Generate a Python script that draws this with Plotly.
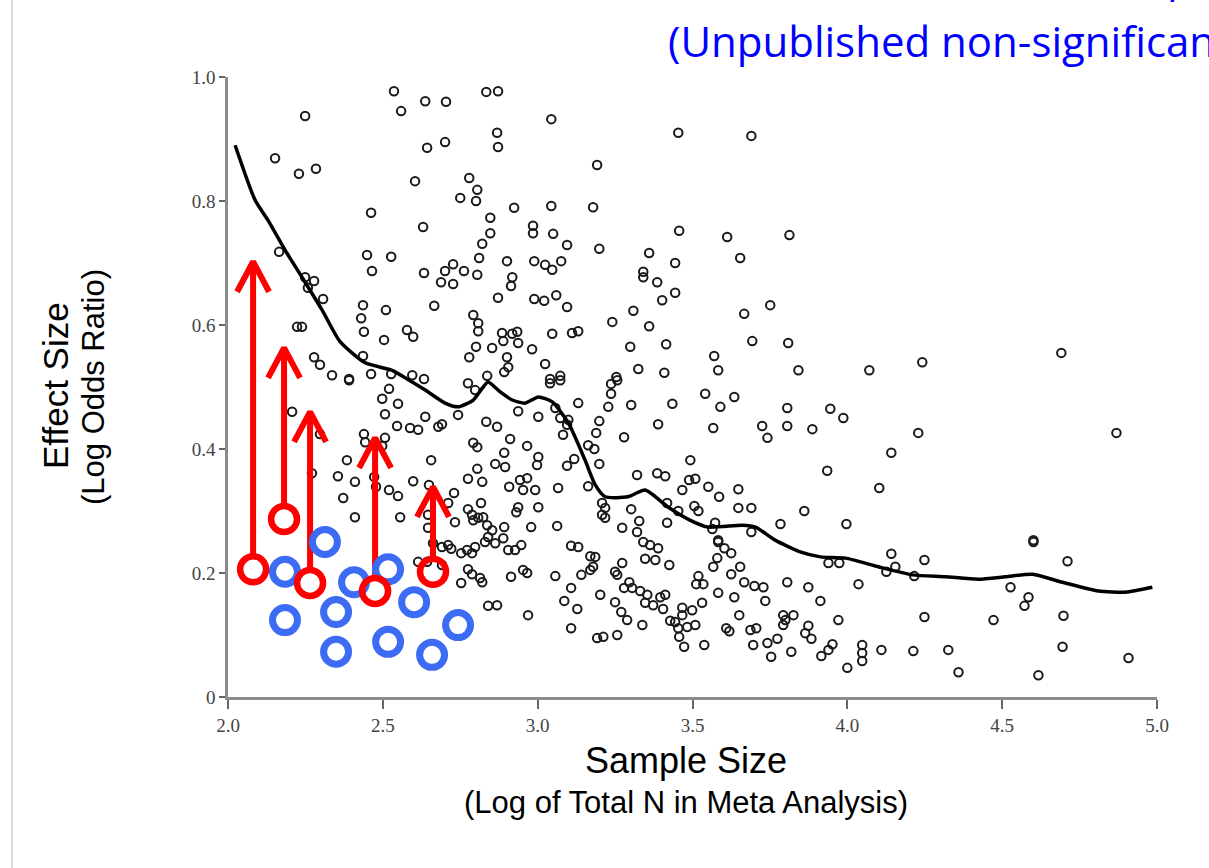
import plotly.graph_objects as go

# ---------------- data ----------------
# black open circles: x = log total N, y = log odds ratio
pts_x = [2.536, 2.559, 2.637, 2.704, 2.834, 2.872, 2.249, 2.152, 2.229, 2.284, 2.869, 2.872, 2.643, 2.701, 2.604,
         2.779, 2.805, 2.750, 2.801, 2.924, 2.847, 2.462, 3.095, 3.044, 3.454, 3.690, 3.192, 3.044, 3.179,
         2.630, 2.847, 2.985, 2.985, 2.821, 2.165, 2.449, 2.527, 2.811, 2.901, 2.989, 2.465, 2.633, 2.701,
         2.727, 2.762, 2.805, 2.688, 2.727, 2.918, 2.914, 2.249, 2.278, 2.258, 2.307, 2.436, 2.510, 2.430,
         2.666, 2.872, 2.989, 2.792, 2.808, 2.808, 2.223, 2.239, 2.439, 2.578, 2.598, 2.504, 2.885, 2.918,
         2.934, 2.889, 2.937, 2.801, 2.853, 2.982, 2.278, 2.297, 2.436, 2.779, 2.901, 2.905, 2.892, 2.336,
         2.391, 2.462, 2.527, 2.595, 2.633, 2.837,
         3.050, 3.095, 3.199, 3.457, 3.612, 3.813, 3.360, 3.444, 3.654, 3.024, 3.047, 3.076, 3.341, 3.341,
         3.386, 3.444, 3.402, 3.021, 3.060, 3.095, 3.309, 3.241, 3.360, 3.667, 3.751, 3.047, 3.111, 3.131,
         3.299, 3.415, 3.693, 3.809, 3.570, 3.024, 3.073, 3.040, 3.254, 3.325, 3.409, 3.583, 3.842,
         4.071, 4.242, 4.691,
         2.207, 2.297, 2.271, 2.391, 2.520, 2.498, 2.549, 2.507, 2.546, 2.588, 2.614, 2.637, 2.679, 2.691,
         2.743, 2.775, 2.798, 2.937, 2.834, 2.869, 2.439, 2.443, 2.507, 2.498, 2.911, 2.792, 2.805, 2.966,
         2.892, 2.384, 2.656, 2.863, 2.895, 2.805, 2.355, 2.472, 2.410, 2.478, 2.598, 2.649, 2.775, 2.821,
         2.908, 2.943, 2.966, 2.953, 2.520, 2.549, 2.372, 2.730, 2.711, 2.817, 2.937, 2.931, 2.775, 2.788,
         2.792, 2.808, 2.824, 2.410, 2.556, 2.646, 2.733, 2.837, 2.853, 2.892, 2.979, 2.646, 2.840, 2.889,
         3.040, 3.073, 3.237, 3.257, 3.237, 3.228, 3.131, 3.302, 3.435, 3.541, 3.590, 3.635, 3.806, 3.945,
         3.987, 3.002, 3.057, 3.073, 3.099, 3.095, 3.199, 3.189, 3.389, 3.567, 3.725, 3.806, 3.887, 3.742,
         3.082, 3.279, 3.163, 3.183, 3.002, 2.998, 3.118, 3.095, 3.199, 3.493, 3.935, 3.321, 3.386, 3.412,
         3.489, 3.509, 2.992, 3.066, 3.163, 3.467, 3.551, 3.648, 3.586, 3.002, 3.208, 3.218, 3.208, 3.218,
         3.302, 3.418, 3.454, 3.506, 3.519, 3.648, 3.690, 3.861, 3.328, 3.418, 3.573, 3.784, 3.997, 3.063,
         3.273, 3.321, 3.564, 3.690, 3.583,
         4.229, 4.142, 4.103, 4.869, 4.601,
         2.662, 2.691, 2.711, 2.721, 2.753, 2.772, 2.788, 2.798, 2.830, 2.863, 2.905, 2.927, 2.947, 2.614,
         2.643, 2.691, 2.775, 2.788, 2.814, 2.821, 2.753, 2.914, 2.953, 2.966, 2.840, 2.869, 2.969,
         3.108, 3.131, 3.170, 3.186, 3.179, 3.170, 3.057, 3.141, 3.108, 3.086, 3.128, 3.202, 3.108, 3.192,
         3.212, 3.257, 3.250, 3.270, 3.289, 3.273, 3.250, 3.257, 3.296, 3.305, 3.279, 3.331, 3.354, 3.347,
         3.373, 3.396, 3.412, 3.405, 3.338, 3.341, 3.363, 3.389, 3.347, 3.380, 3.425, 3.467, 3.499, 3.467,
         3.428, 3.444, 3.454, 3.483, 3.509, 3.457, 3.473, 3.538, 3.531, 3.583, 3.635, 3.512, 3.535, 3.519,
         3.567, 3.580, 3.583, 3.603, 3.625, 3.625, 3.654, 3.667, 3.700, 3.729, 3.735, 3.651, 3.609, 3.619,
         3.687, 3.706, 3.696, 3.742, 3.774, 3.754, 3.819, 3.806, 3.793, 3.826, 3.800, 3.793, 3.874, 3.913,
         3.874, 3.864, 3.884, 3.952, 3.939, 3.916, 3.971, 3.939, 3.974, 4.000,
         4.601, 4.142, 4.155, 4.126, 4.249, 4.216, 4.036, 4.711, 4.527, 4.585, 4.572, 4.249, 4.472, 4.698,
         4.048, 4.048, 4.048, 4.110, 4.213, 4.326, 4.359, 4.695, 4.908, 4.617]
pts_y = [0.977, 0.945, 0.961, 0.960, 0.976, 0.977, 0.937, 0.869, 0.844, 0.852, 0.910, 0.887, 0.886, 0.895, 0.832,
         0.837, 0.818, 0.805, 0.800, 0.789, 0.773, 0.781, 1.006, 0.932, 0.910, 0.905, 0.858, 0.792, 0.790,
         0.758, 0.748, 0.760, 0.748, 0.731, 0.718, 0.713, 0.710, 0.708, 0.703, 0.703, 0.687, 0.684, 0.687,
         0.698, 0.687, 0.681, 0.669, 0.666, 0.677, 0.663, 0.677, 0.671, 0.660, 0.642, 0.632, 0.624, 0.611,
         0.631, 0.644, 0.642, 0.616, 0.603, 0.590, 0.597, 0.597, 0.589, 0.592, 0.581, 0.576, 0.587, 0.586,
         0.589, 0.574, 0.571, 0.565, 0.563, 0.561, 0.548, 0.536, 0.550, 0.548, 0.548, 0.532, 0.524, 0.519,
         0.513, 0.521, 0.521, 0.519, 0.513, 0.518,
         0.747, 0.729, 0.723, 0.752, 0.742, 0.745, 0.716, 0.700, 0.708, 0.697, 0.689, 0.703, 0.686, 0.677,
         0.669, 0.652, 0.640, 0.639, 0.648, 0.629, 0.623, 0.605, 0.598, 0.618, 0.632, 0.586, 0.587, 0.590,
         0.565, 0.569, 0.574, 0.571, 0.550, 0.537, 0.518, 0.513, 0.516, 0.529, 0.523, 0.527, 0.527,
         0.527, 0.540, 0.555,
         0.460, 0.424, 0.361, 0.511, 0.497, 0.481, 0.473, 0.456, 0.437, 0.434, 0.431, 0.452, 0.436, 0.440,
         0.455, 0.506, 0.495, 0.461, 0.444, 0.436, 0.424, 0.411, 0.418, 0.405, 0.416, 0.410, 0.403, 0.405,
         0.394, 0.382, 0.382, 0.376, 0.371, 0.368, 0.356, 0.355, 0.347, 0.339, 0.348, 0.342, 0.352, 0.347,
         0.339, 0.350, 0.353, 0.334, 0.334, 0.324, 0.321, 0.329, 0.313, 0.313, 0.306, 0.298, 0.303, 0.294,
         0.285, 0.289, 0.290, 0.290, 0.290, 0.294, 0.282, 0.277, 0.269, 0.274, 0.274, 0.273, 0.258, 0.256,
         0.506, 0.511, 0.505, 0.511, 0.489, 0.468, 0.474, 0.471, 0.473, 0.489, 0.468, 0.484, 0.466, 0.465,
         0.450, 0.452, 0.466, 0.450, 0.447, 0.439, 0.445, 0.426, 0.440, 0.434, 0.437, 0.437, 0.432, 0.418,
         0.423, 0.419, 0.406, 0.400, 0.387, 0.374, 0.384, 0.373, 0.376, 0.382, 0.365, 0.358, 0.361, 0.356,
         0.350, 0.352, 0.334, 0.337, 0.340, 0.334, 0.339, 0.335, 0.323, 0.306, 0.313, 0.305, 0.294, 0.289,
         0.303, 0.313, 0.300, 0.308, 0.300, 0.305, 0.305, 0.300, 0.284, 0.281, 0.281, 0.279, 0.279, 0.276,
         0.273, 0.266, 0.271, 0.266, 0.253,
         0.426, 0.394, 0.337, 0.426, 0.253,
         0.248, 0.242, 0.245, 0.239, 0.232, 0.237, 0.232, 0.242, 0.250, 0.248, 0.237, 0.237, 0.245, 0.218,
         0.218, 0.213, 0.206, 0.198, 0.192, 0.185, 0.184, 0.194, 0.205, 0.200, 0.147, 0.148, 0.132,
         0.244, 0.242, 0.227, 0.226, 0.210, 0.205, 0.195, 0.197, 0.176, 0.155, 0.142, 0.165, 0.111, 0.095,
         0.097, 0.100, 0.153, 0.137, 0.124, 0.216, 0.202, 0.197, 0.185, 0.176, 0.176, 0.171, 0.165, 0.152,
         0.148, 0.161, 0.165, 0.142, 0.116, 0.250, 0.245, 0.240, 0.223, 0.221, 0.213, 0.144, 0.140, 0.132,
         0.123, 0.121, 0.111, 0.113, 0.116, 0.097, 0.081, 0.084, 0.152, 0.168, 0.161, 0.182, 0.182, 0.195,
         0.210, 0.224, 0.250, 0.240, 0.232, 0.198, 0.210, 0.185, 0.179, 0.177, 0.155, 0.132, 0.111, 0.106,
         0.108, 0.111, 0.084, 0.087, 0.094, 0.065, 0.073, 0.185, 0.132, 0.132, 0.124, 0.116, 0.177, 0.155,
         0.115, 0.103, 0.094, 0.085, 0.076, 0.066, 0.124, 0.216, 0.216, 0.047,
         0.250, 0.231, 0.210, 0.202, 0.221, 0.195, 0.182, 0.219, 0.177, 0.161, 0.147, 0.129, 0.124, 0.131,
         0.084, 0.071, 0.058, 0.076, 0.074, 0.076, 0.040, 0.081, 0.063, 0.035]

# smoothed trend line
curve_x = [2.023, 2.087, 2.129, 2.184, 2.239, 2.304, 2.362, 2.443, 2.530, 2.572, 2.637, 2.701, 2.743, 2.792,
           2.821, 2.840, 2.879, 2.918, 2.960, 3.002, 3.047, 3.099, 3.153, 3.186, 3.218, 3.292, 3.347, 3.422,
           3.493, 3.551, 3.661, 3.703, 3.767, 3.848, 3.913, 3.994, 4.100, 4.210, 4.317, 4.423, 4.511, 4.598,
           4.695, 4.811, 4.898, 4.985]
curve_y = [0.890, 0.802, 0.769, 0.721, 0.677, 0.624, 0.573, 0.539, 0.527, 0.515, 0.495, 0.474, 0.468, 0.479,
           0.498, 0.508, 0.492, 0.479, 0.474, 0.484, 0.476, 0.442, 0.382, 0.342, 0.323, 0.323, 0.334, 0.306,
           0.285, 0.274, 0.277, 0.274, 0.253, 0.234, 0.226, 0.224, 0.210, 0.197, 0.194, 0.190, 0.194, 0.198,
           0.185, 0.171, 0.169, 0.177]

# red hypothetical studies and where their arrows point
red_x = [2.081, 2.181, 2.265, 2.475, 2.662]
red_y = [0.206, 0.287, 0.184, 0.171, 0.202]
red_top = [0.702, 0.563, 0.460, 0.418, 0.339]

# blue unpublished studies
blue_x = [2.184, 2.313, 2.407, 2.517, 2.601, 2.184, 2.349, 2.349, 2.517, 2.659, 2.743]
blue_y = [0.202, 0.250, 0.185, 0.206, 0.153, 0.124, 0.137, 0.073, 0.089, 0.068, 0.116]

x_ticks = [2.0, 2.5, 3.0, 3.5, 4.0, 4.5, 5.0]
x_tick_labels = ["2.0", "2.5", "3.0", "3.5", "4.0", "4.5", "5.0"]
y_ticks = [0, 0.2, 0.4, 0.6, 0.8, 1.0]
y_tick_labels = ["0", "0.2", "0.4", "0.6", "0.8", "1.0"]

# ---------------- figure ----------------
W, H = 1209, 868
ML, MR, MT, MB = 228, 52, 77, 171
PW, PH = W - ML - MR, H - MT - MB
RED = "#ff0000"
BLUE = "#3d6cf4"

fig = go.Figure()

fig.add_trace(go.Scatter(x=pts_x, y=pts_y, mode="markers", cliponaxis=False,
                         marker=dict(symbol="circle-open", size=8.5, color="#1a1a1a",
                                     line=dict(width=2, color="#1a1a1a")),
                         hoverinfo="skip"))

fig.add_trace(go.Scatter(x=curve_x, y=curve_y, mode="lines",
                         line=dict(color="#000000", width=3.5, shape="spline", smoothing=0.6),
                         hoverinfo="skip"))

# arrows: shaft from top of circle to apex, plus open chevron head
ring_r = 15 / PH
arm_dx = 16 / PW * 3.0
arm_dy = 30 / PH
ax_, ay_ = [], []
for x0, y0, t in zip(red_x, red_y, red_top):
    ax_ += [x0, x0, None, x0 - arm_dx, x0, x0 + arm_dx, None]
    ay_ += [y0 + ring_r, t, None, t - arm_dy, t, t - arm_dy, None]
fig.add_trace(go.Scatter(x=ax_, y=ay_, mode="lines", line=dict(color=RED, width=6),
                         hoverinfo="skip"))

fig.add_trace(go.Scatter(x=blue_x, y=blue_y, mode="markers",
                         marker=dict(symbol="circle-open", size=25, color=BLUE,
                                     line=dict(width=7, color=BLUE)),
                         hoverinfo="skip"))
fig.add_trace(go.Scatter(x=red_x, y=red_y, mode="markers",
                         marker=dict(symbol="circle-open", size=26, color=RED,
                                     line=dict(width=6.5, color=RED)),
                         hoverinfo="skip"))

axis_common = dict(showline=True, linecolor="#8c8c8c", linewidth=2.5, ticks="outside",
                   tickcolor="#666", tickwidth=1.5, showgrid=False, zeroline=False,
                   tickfont=dict(family="Liberation Serif", size=19, color="#444"))
fig.update_xaxes(range=[2.0, 5.0], tickvals=x_ticks, ticktext=x_tick_labels, ticklen=9, **axis_common)
fig.update_yaxes(range=[0, 1.0], tickvals=y_ticks, ticktext=y_tick_labels, ticklen=6, **axis_common)

def px(xp):
    return (xp - ML) / PW

def py(yp):
    return (H - MB - yp) / PH

ann = [
    dict(text="Effect Size", x=px(55), y=py(386), textangle=-90,
         font=dict(family="Liberation Sans", size=35, color="#000")),
    dict(text="(Log Odds Ratio)", x=px(93), y=py(387), textangle=-90,
         font=dict(family="Liberation Sans", size=31, color="#000")),
    dict(text="Sample Size", x=px(686), y=py(760),
         font=dict(family="Liberation Sans", size=36, color="#000")),
    dict(text="(Log of Total N in Meta Analysis)", x=px(686), y=py(802),
         font=dict(family="Liberation Sans", size=31, color="#000")),
    dict(text="(Unpublished non-significant studies)", x=px(666), y=py(41), xanchor="left",
         font=dict(family="Open Sans", size=42, color="#0000ff")),
    dict(text="Hidden studies: the blue clump", x=px(1195), y=py(6), xanchor="right", yanchor="bottom",
         font=dict(family="Open Sans", size=42, color="#0000ff")),
]
for a in ann:
    a.setdefault("xanchor", "center")
    a.setdefault("yanchor", "middle")
    fig.add_annotation(xref="paper", yref="paper", showarrow=False, **a)

fig.add_shape(type="line", xref="paper", yref="paper", x0=px(12), x1=px(12), y0=py(H), y1=py(0),
              line=dict(color="#d0d0d0", width=1.5))

fig.update_layout(width=W, height=H, margin=dict(l=ML, r=MR, t=MT, b=MB),
                  paper_bgcolor="white", plot_bgcolor="white", showlegend=False)

fig.write_html("out.html")
